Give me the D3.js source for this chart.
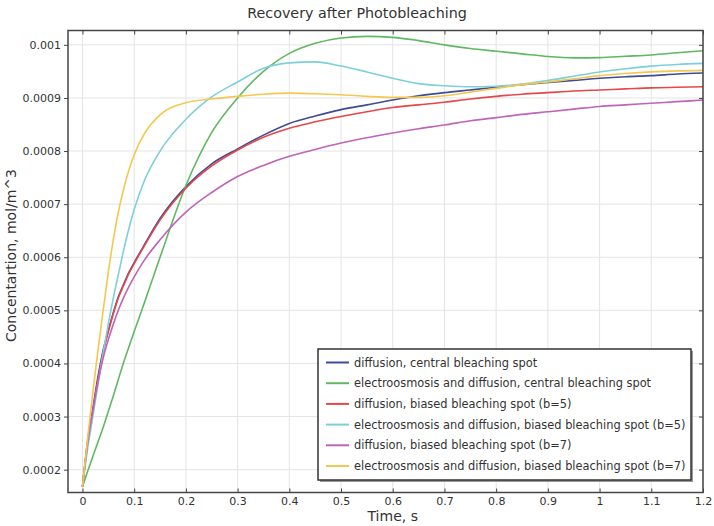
<!DOCTYPE html>
<html>
<head>
<meta charset="utf-8">
<script src="https://cdn.jsdelivr.net/npm/d3@7"></script>
<style>
  body { margin: 0; background: #fff; }
  text { font-family: "DejaVu Sans", sans-serif; fill: #333; }
</style>
</head>
<body>
<div id="canvas"></div>
<script>
// time samples, s
const times = [0, 0.01, 0.02, 0.03, 0.04, 0.05, 0.06, 0.07, 0.08, 0.09, 0.1, 0.12, 0.15, 0.2, 0.25, 0.3, 0.35, 0.4, 0.45, 0.5,
  0.55, 0.6, 0.65, 0.7, 0.75, 0.8, 0.85, 0.9, 0.95, 1.0, 1.05, 1.1, 1.15, 1.2];

// concentrations in units of 1e-4 mol/m^3
const diffCentral = [1.68, 2.55, 3.15, 3.75, 4.25, 4.62, 4.97, 5.27, 5.5, 5.72, 5.9, 6.24, 6.73, 7.33, 7.76, 8.04, 8.3, 8.52, 8.66, 8.78,
  8.87, 8.96, 9.04, 9.1, 9.15, 9.2, 9.25, 9.29, 9.33, 9.37, 9.4, 9.42, 9.45, 9.47];
const eoCentral = [1.68, 1.97, 2.25, 2.52, 2.8, 3.1, 3.4, 3.72, 4.03, 4.32, 4.6, 5.15, 6.0, 7.35, 8.35, 9.0, 9.5, 9.84, 10.03, 10.13,
  10.16, 10.14, 10.08, 10.0, 9.93, 9.88, 9.83, 9.78, 9.755, 9.76, 9.785, 9.81, 9.85, 9.89];
const diffB5 = [1.68, 2.5, 3.1, 3.7, 4.2, 4.6, 4.95, 5.25, 5.48, 5.7, 5.88, 6.22, 6.7, 7.3, 7.72, 8.02, 8.26, 8.43, 8.55, 8.65,
  8.74, 8.82, 8.87, 8.92, 8.98, 9.03, 9.07, 9.1, 9.13, 9.15, 9.17, 9.19, 9.2, 9.21];
const eoB5 = [1.68, 2.4, 3.0, 3.6, 4.2, 4.75, 5.25, 5.7, 6.15, 6.55, 6.9, 7.45, 8.0, 8.6, 9.02, 9.3, 9.56, 9.66, 9.68, 9.6,
  9.49, 9.37, 9.27, 9.23, 9.21, 9.22, 9.26, 9.33, 9.41, 9.49, 9.55, 9.6, 9.63, 9.65];
const diffB7 = [1.68, 2.5, 3.1, 3.65, 4.1, 4.45, 4.75, 5.02, 5.25, 5.45, 5.63, 5.95, 6.33, 6.85, 7.22, 7.52, 7.73, 7.9, 8.03, 8.15,
  8.25, 8.34, 8.42, 8.49, 8.57, 8.63, 8.69, 8.74, 8.79, 8.84, 8.87, 8.9, 8.93, 8.96];
const eoB7 = [1.68, 2.6, 3.45, 4.25, 5.0, 5.72, 6.35, 6.88, 7.3, 7.65, 7.93, 8.33, 8.68, 8.91, 8.98, 9.03, 9.07, 9.09, 9.08, 9.06,
  9.03, 9.01, 9.01, 9.04, 9.11, 9.18, 9.25, 9.3, 9.36, 9.42, 9.46, 9.49, 9.51, 9.52];

const seriesNames = [
  "diffusion, central bleaching spot",
  "electroosmosis and diffusion, central bleaching spot",
  "diffusion, biased bleaching spot (b=5)",
  "electroosmosis and diffusion, biased bleaching spot (b=5)",
  "diffusion, biased bleaching spot (b=7)",
  "electroosmosis and diffusion, biased bleaching spot (b=7)"
];
const seriesValues = [diffCentral, eoCentral, diffB5, eoB5, diffB7, eoB7];
const colors = ["#3d4b99", "#5fb862", "#e5474b", "#7dcfdb", "#c064b9", "#f4c84f"];

const xTicks = [0, 0.1, 0.2, 0.3, 0.4, 0.5, 0.6, 0.7, 0.8, 0.9, 1, 1.1, 1.2];
const yTicks = [0.0002, 0.0003, 0.0004, 0.0005, 0.0006, 0.0007, 0.0008, 0.0009, 0.001];

const width = 714, height = 526;
const margin = { top: 30.5, right: 11, bottom: 33.5, left: 68 };
const iwidth = width - margin.left - margin.right;
const iheight = height - margin.top - margin.bottom;

const svg = d3.select("#canvas").append("svg")
  .attr("width", width)
  .attr("height", height);

svg.append("text")
  .attr("x", 357).attr("y", 17.5)
  .attr("text-anchor", "middle")
  .style("font-size", "14.3px")
  .text("Recovery after Photobleaching");

const g = svg.append("g").attr("transform", `translate(${margin.left},${margin.top})`);

const x = d3.scaleLinear().domain([-0.028, 1.2]).range([0, iwidth]);
const y = d3.scaleLinear().domain([1.57e-4, 10.27e-4]).range([iheight, 0]);

// grid
g.append("g")
  .selectAll("line").data(xTicks).enter().append("line")
  .attr("x1", d => x(d)).attr("x2", d => x(d))
  .attr("y1", 0).attr("y2", iheight)
  .attr("stroke", "#e4e4e4");
g.append("g")
  .selectAll("line").data(yTicks).enter().append("line")
  .attr("y1", d => y(d)).attr("y2", d => y(d))
  .attr("x1", 0).attr("x2", iwidth)
  .attr("stroke", "#e4e4e4");

// curves
g.append("clipPath").attr("id", "clip")
  .append("rect").attr("width", iwidth).attr("height", iheight);

const line = d3.line()
  .x(d => x(d[0]))
  .y(d => y(d[1]))
  .curve(d3.curveMonotoneX);

const series = seriesValues.map((vals, i) => ({
  name: seriesNames[i],
  color: colors[i],
  points: times.map((t, j) => [t, vals[j] * 1e-4])
}));

g.append("g").attr("clip-path", "url(#clip)")
  .selectAll("path").data(series).enter().append("path")
  .attr("fill", "none")
  .attr("stroke", d => d.color)
  .attr("stroke-width", 1.6)
  .attr("d", d => line(d.points));

// axes
const fmtX = d => String(d);
const fmtY = d => String(+d.toFixed(4));

const axL = g.append("g")
  .call(d3.axisLeft(y).tickValues(yTicks).tickSize(4).tickPadding(3).tickFormat(fmtY));
const axB = g.append("g").attr("transform", `translate(0,${iheight})`)
  .call(d3.axisBottom(x).tickValues(xTicks).tickSize(-4).tickPadding(5).tickFormat(fmtX));
const axT = g.append("g")
  .call(d3.axisTop(x).tickValues(xTicks).tickSize(-4).tickFormat(""));
const axR = g.append("g").attr("transform", `translate(${iwidth},0)`)
  .call(d3.axisRight(y).tickValues(yTicks).tickSize(-4).tickFormat(""));

[axL, axB, axT, axR].forEach(a => {
  a.select(".domain").remove();
  a.selectAll(".tick line").attr("stroke", "#444");
  a.selectAll("text").style("font-size", "11px").attr("fill", "#333").style("font-family", "DejaVu Sans, sans-serif");
});

g.append("rect")
  .attr("width", iwidth).attr("height", iheight)
  .attr("fill", "none")
  .attr("stroke", "#444")
  .attr("stroke-width", 1.5);

// axis titles
svg.append("text")
  .attr("x", margin.left + x(0.6)).attr("y", 521)
  .attr("text-anchor", "middle")
  .style("font-size", "14px")
  .text("Time, s");

svg.append("text")
  .attr("transform", `translate(16,${margin.top + iheight / 2 - 6}) rotate(-90)`)
  .attr("text-anchor", "middle")
  .style("font-size", "14px")
  .text("Concentartion, mol/m^3");

// legend
const lx = 318, ly = 349, lw = 373, lh = 131;
const legend = svg.append("g");
legend.append("rect")
  .attr("x", lx + 2).attr("y", ly + 2).attr("width", lw).attr("height", lh)
  .attr("fill", "#9a9a9a");
legend.append("rect")
  .attr("x", lx).attr("y", ly).attr("width", lw).attr("height", lh)
  .attr("fill", "#fff").attr("stroke", "#333").attr("stroke-width", 1.5);

const rows = legend.selectAll("g.row").data(series).enter().append("g")
  .attr("transform", (d, i) => `translate(${lx},${ly + 13.5 + i * 20.7})`);
rows.append("line")
  .attr("x1", 8).attr("x2", 31)
  .attr("stroke", d => d.color).attr("stroke-width", 2);
rows.append("text")
  .attr("x", 36).attr("dy", "0.35em")
  .style("font-size", "11.4px")
  .attr("fill", "#222")
  .text(d => d.name);
</script>
</body>
</html>
